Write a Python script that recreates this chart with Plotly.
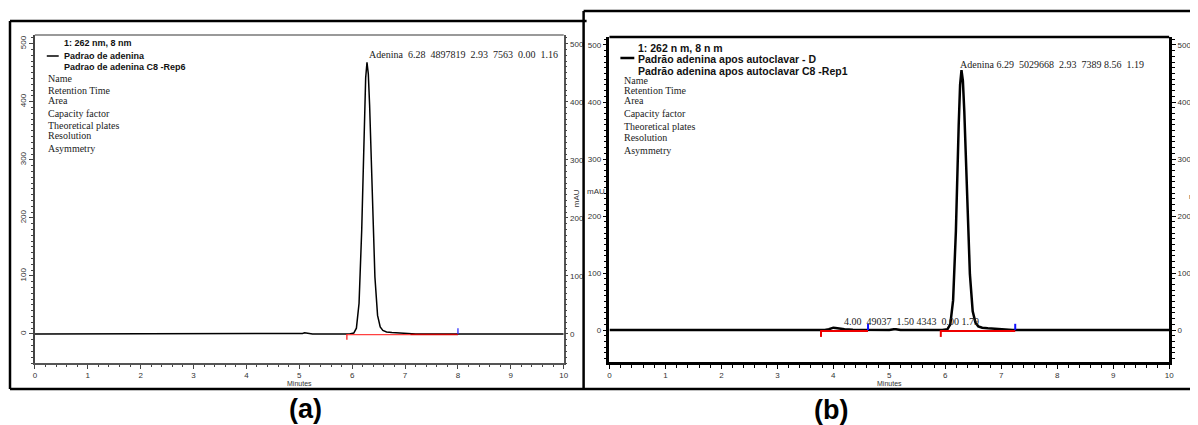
import plotly.graph_objects as go

# page is 1198x425; the html body adds an 8px margin, so the figure is 8px smaller
OFF = 8
W, H = 1198 - OFF, 425 - OFF

# ---------------- data ----------------
x_ticks = [0, 1, 2, 3, 4, 5, 6, 7, 8, 9, 10]
y_ticks = [0, 100, 200, 300, 400, 500]

# chromatogram (a): time in minutes, absorbance in mAU
time_a = [0.0, 5.00, 5.06, 5.10, 5.15, 5.25, 5.95, 6.03, 6.08, 6.13, 6.18, 6.23,
          6.255, 6.28, 6.305, 6.33, 6.38, 6.43, 6.48, 6.53, 6.58, 6.65, 6.75,
          6.90, 7.10, 7.20, 10.0]
mau_a = [0.0, 0.0, 1.0, 2.0, 1.0, 0.0, 0.0, 1.5, 10, 53, 178, 368,
         441, 468, 448, 393, 235, 98, 32, 12, 6, 3.5, 2.5,
         2.0, 1.5, 0.0, 0.0]

# chromatogram (b)
time_b = [0.0, 3.85, 3.92, 3.97, 4.00, 4.04, 4.10, 4.20, 4.35, 5.00, 5.08, 5.12,
          5.20, 5.95, 6.04, 6.09, 6.14, 6.19, 6.24, 6.265, 6.29, 6.315, 6.34,
          6.39, 6.44, 6.49, 6.54, 6.59, 6.66, 6.76, 6.90, 7.10, 7.20, 10.0]
mau_b = [0.0, 0.0, 1.5, 3.5, 4.2, 3.8, 2.5, 1.5, 0.5, 0.0, 1.5, 1.5,
         0.0, 0.0, 1.5, 10, 52, 174, 360, 430, 456, 437, 384,
         232, 98, 33, 13, 6.5, 4.0, 3.0, 2.0, 1.5, 0.0, 0.0]

# integration baselines: start / end times
base_start_a = [5.90]
base_end_a = [8.00]
base_start_b = [3.78, 5.92]
base_end_b = [4.62, 7.25]

# peak result labels
peak_time_a = 6.28
peak_label_a = "Adenina  6.28  4897819  2.93  7563  0.00  1.16"
peak_time_b = 6.29
peak_label_b = "Adenina 6.29  5029668  2.93  7389 8.56  1.19"
minor_peak_time_b = 4.00
minor_label_b = "4.00  49037  1.50 4343  0.00 1.79"

header_a = ["1: 262 nm, 8 nm", "Padrao de adenina", "Padrao de adenina C8 -Rep6"]
header_b = ["1: 262 n m, 8 n m", "Padrão adenina apos autoclavar - D",
            "Padrão adenina apos autoclavar C8 -Rep1"]
fields = ["Name", "Retention Time", "Area", "Capacity factor",
          "Theoretical plates", "Resolution", "Asymmetry"]


# ---------------- helpers (page pixel -> paper) ----------------
def px(x):
    return (x - OFF) / W


def py(y):
    return 1 - (y - OFF) / H


fig = go.Figure()

# ---- traces panel (a)
fig.add_trace(go.Scatter(x=time_a, y=mau_a, mode="lines", xaxis="x", yaxis="y",
                         line=dict(color="black", width=1.5), showlegend=False,
                         hoverinfo="skip"))
for s, e in zip(base_start_a, base_end_a):
    fig.add_trace(go.Scatter(x=[s, 7.1], y=[-1, -1], mode="lines", xaxis="x", yaxis="y",
                             line=dict(color="#ff4040", width=1.2), showlegend=False))
    fig.add_trace(go.Scatter(x=[7.1, e], y=[-1, -1], mode="lines", xaxis="x", yaxis="y",
                             line=dict(color="#cc0000", width=1.5), showlegend=False))
    fig.add_trace(go.Scatter(x=[s, s], y=[0, -10], mode="lines", xaxis="x", yaxis="y",
                             line=dict(color="#ff2020", width=1.3), showlegend=False))
    fig.add_trace(go.Scatter(x=[e, e], y=[0, 10], mode="lines", xaxis="x", yaxis="y",
                             line=dict(color="#3030ff", width=1.3), showlegend=False))
fig.add_trace(go.Scatter(x=[0], y=[0], mode="lines", xaxis="x", yaxis="y2",
                         line=dict(color="rgba(0,0,0,0)"), showlegend=False,
                         hoverinfo="skip"))

# ---- traces panel (b)
fig.add_trace(go.Scatter(x=time_b, y=mau_b, mode="lines", xaxis="x2", yaxis="y3",
                         line=dict(color="black", width=2.5), showlegend=False,
                         hoverinfo="skip"))
for s, e in zip(base_start_b, base_end_b):
    fig.add_trace(go.Scatter(x=[s, e], y=[-1.5, -1.5], mode="lines", xaxis="x2", yaxis="y3",
                             line=dict(color="#ee0000", width=2), showlegend=False))
    fig.add_trace(go.Scatter(x=[s, s], y=[0, -12], mode="lines", xaxis="x2", yaxis="y3",
                             line=dict(color="#ee0000", width=2), showlegend=False))
    fig.add_trace(go.Scatter(x=[e, e], y=[0, 11], mode="lines", xaxis="x2", yaxis="y3",
                             line=dict(color="#1010ff", width=2), showlegend=False))
fig.add_trace(go.Scatter(x=[0], y=[0], mode="lines", xaxis="x2", yaxis="y4",
                         line=dict(color="rgba(0,0,0,0)"), showlegend=False,
                         hoverinfo="skip"))

tickfont = dict(family="Arial, Liberation Sans", size=8, color="#333")
minor_x = dict(dtick=0.2, ticklen=2, ticks="outside", tickcolor="#444")
minor_y = dict(dtick=10, ticklen=2, ticks="outside", tickcolor="#444")

yr_a = [-50, 515]
yr_b = [-56, 514]

fig.update_layout(
    width=W, height=H,
    margin=dict(l=0, r=0, t=0, b=0),
    paper_bgcolor="white", plot_bgcolor="white",
    xaxis=dict(domain=[px(33), px(565)], anchor="y", range=[0, 10],
               tickvals=x_ticks, ticks="outside", ticklen=4, tickcolor="#444",
               showline=True, linecolor="#555", linewidth=1.5, showgrid=False,
               zeroline=False, tickfont=tickfont, minor=minor_x,
               title=dict(text="Minutes", font=dict(family="Arial", size=7, color="#333"),
                          standoff=2)),
    yaxis=dict(domain=[py(363), py(35)], anchor="x", range=yr_a,
               tickvals=y_ticks, tickangle=-90, ticks="outside", ticklen=4,
               tickcolor="#444", showline=True, linecolor="#444", linewidth=1.8,
               showgrid=False, zeroline=False, tickfont=tickfont, minor=minor_y),
    yaxis2=dict(overlaying="y", side="right", anchor="x", range=yr_a,
                tickvals=y_ticks, ticks="outside", ticklen=3, tickcolor="#444",
                showline=True, linecolor="#555", linewidth=1.5, showgrid=False,
                zeroline=False, tickfont=tickfont, minor=minor_y),
    xaxis2=dict(domain=[px(611), px(1174)], anchor="y3", range=[0, 10],
                tickvals=x_ticks, ticks="outside", ticklen=4, tickcolor="black",
                showline=True, linecolor="black", linewidth=2.5, showgrid=False,
                zeroline=False, tickfont=tickfont,
                minor=dict(dtick=0.2, ticklen=3, ticks="outside", tickcolor="black"),
                title=dict(text="Minutes", font=dict(family="Arial", size=7, color="#333"),
                           standoff=2)),
    yaxis3=dict(domain=[py(362), py(37)], anchor="x2", range=yr_b,
                tickvals=y_ticks, ticks="outside", ticklen=4, tickcolor="black",
                showline=True, linecolor="black", linewidth=2.5, showgrid=False,
                zeroline=False, tickfont=tickfont,
                minor=dict(dtick=10, ticklen=3, ticks="outside", tickcolor="black")),
    yaxis4=dict(overlaying="y3", side="right", anchor="x2", range=yr_b,
                tickvals=y_ticks, ticks="outside", ticklen=4, tickcolor="black",
                showline=True, linecolor="black", linewidth=2.5, showgrid=False,
                zeroline=False, tickfont=tickfont,
                minor=dict(dtick=10, ticklen=3, ticks="outside", tickcolor="black")),
)

shapes = []
# outer frames
shapes.append(dict(type="line", xref="paper", yref="paper", x0=px(8), x1=px(588),
                   y0=py(21), y1=py(21), line=dict(color="black", width=2.5)))
shapes.append(dict(type="line", xref="paper", yref="paper", x0=px(8), x1=px(8),
                   y0=py(21), y1=py(389), line=dict(color="black", width=2.5)))
shapes.append(dict(type="line", xref="paper", yref="paper", x0=px(8), x1=px(1198),
                   y0=py(389), y1=py(389), line=dict(color="black", width=2.5)))
shapes.append(dict(type="line", xref="paper", yref="paper", x0=px(585), x1=px(585),
                   y0=py(11), y1=py(389), line=dict(color="black", width=2.5)))
shapes.append(dict(type="line", xref="paper", yref="paper", x0=px(585), x1=px(1198),
                   y0=py(11), y1=py(11), line=dict(color="black", width=2.5)))
# plot area top borders
shapes.append(dict(type="line", xref="paper", yref="paper", x0=px(33), x1=px(565),
                   y0=py(35), y1=py(35), line=dict(color="#777", width=1.5)))
shapes.append(dict(type="line", xref="paper", yref="paper", x0=px(611), x1=px(1174),
                   y0=py(37), y1=py(37), line=dict(color="black", width=2.5)))
# legend line samples
shapes.append(dict(type="line", xref="paper", yref="paper", x0=px(45), x1=px(57),
                   y0=py(56), y1=py(56), line=dict(color="black", width=1.5)))
shapes.append(dict(type="line", xref="paper", yref="paper", x0=px(622), x1=px(636),
                   y0=py(58), y1=py(58), line=dict(color="black", width=2.5)))
fig.update_layout(shapes=shapes)

ann = []
bold_a = dict(family="Arial, Liberation Sans", size=9, color="#111")
bold_b = dict(family="Arial, Liberation Sans", size=10.5, color="#111")
serif = dict(family="Times New Roman, Liberation Serif", size=10, color="#222")

for txt, yy in zip(header_a, [43, 56, 67]):
    ann.append(dict(text="<b>%s</b>" % txt, x=px(60), y=py(yy), xref="paper", yref="paper",
                    xanchor="left", yanchor="middle", showarrow=False, font=bold_a))
for txt, yy in zip(fields, [78, 90, 101, 113, 125, 136, 148]):
    ann.append(dict(text=txt, x=px(44), y=py(yy), xref="paper", yref="paper",
                    xanchor="left", yanchor="middle", showarrow=False, font=serif))
for txt, yy in zip(header_b, [48, 59, 71]):
    ann.append(dict(text="<b>%s</b>" % txt, x=px(638), y=py(yy), xref="paper", yref="paper",
                    xanchor="left", yanchor="middle", showarrow=False, font=bold_b))
for txt, yy in zip(fields, [80, 90, 100.5, 114, 126, 137, 150]):
    ann.append(dict(text=txt, x=px(624), y=py(yy), xref="paper", yref="paper",
                    xanchor="left", yanchor="middle", showarrow=False, font=serif))

# peak labels
ann.append(dict(text=peak_label_a, x=peak_time_a, y=max(mau_a), xref="x", yref="y",
                xanchor="left", yanchor="bottom", xshift=0, yshift=0, showarrow=False,
                font=serif))
ann.append(dict(text=peak_label_b, x=peak_time_b, y=max(mau_b), xref="x2", yref="y3",
                xanchor="left", yanchor="bottom", xshift=-3, yshift=-2, showarrow=False,
                font=serif))
ann.append(dict(text=minor_label_b, x=minor_peak_time_b, y=0, xref="x2", yref="y3",
                xanchor="left", yanchor="bottom", xshift=9, yshift=1, showarrow=False,
                font=serif))

# axis titles
ann.append(dict(text="mAU", x=px(571), y=py(198), xref="paper", yref="paper",
                xanchor="left", yanchor="middle", textangle=-90, showarrow=False,
                font=dict(family="Arial", size=8, color="#333")))
ann.append(dict(text="mAU", x=px(609), y=py(192), xref="paper", yref="paper",
                xanchor="right", yanchor="middle", showarrow=False,
                font=dict(family="Arial", size=8, color="#333")))
ann.append(dict(text="mAU", x=px(1192), y=py(196), xref="paper", yref="paper",
                xanchor="left", yanchor="middle", showarrow=False,
                font=dict(family="Arial", size=8, color="#333")))

# captions
cap = dict(family="Arial, Liberation Sans", size=27, color="black")
ann.append(dict(text="<b>(a)</b>", x=px(305), y=py(409), xref="paper", yref="paper",
                xanchor="center", yanchor="middle", showarrow=False, font=cap))
ann.append(dict(text="<b>(b)</b>", x=px(834), y=py(410), xref="paper", yref="paper",
                xanchor="center", yanchor="middle", showarrow=False, font=cap))

fig.update_layout(annotations=ann)

fig.write_html("out.html")
